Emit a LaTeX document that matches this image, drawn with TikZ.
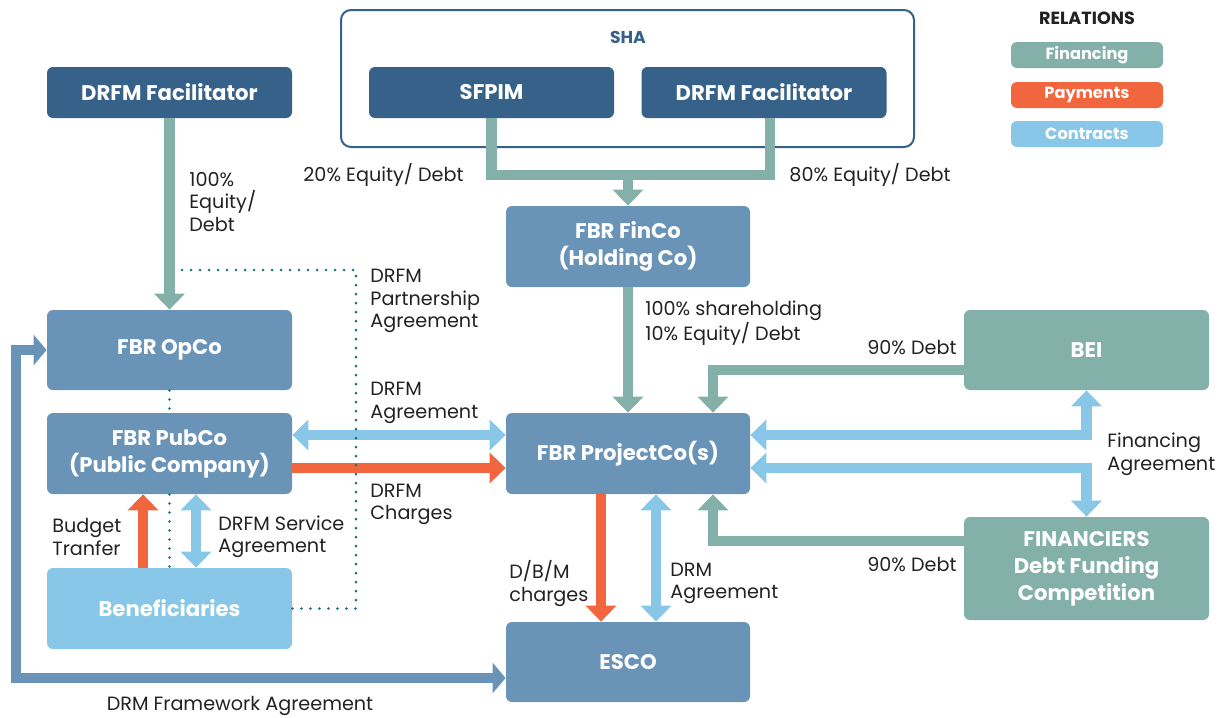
\documentclass[tikz,border=0pt]{standalone}
\usepackage{fontspec}
\setmainfont{Poppins}
\usetikzlibrary{arrows.meta,calc}
\definecolor{dblue}{HTML}{36628A}
\definecolor{mblue}{HTML}{6A93B8}
\definecolor{lblue}{HTML}{88C7E7}
\definecolor{cteal}{HTML}{84B0AA}
\definecolor{corange}{HTML}{F2663F}
\definecolor{dotc}{HTML}{1F6F7A}
\definecolor{txt}{HTML}{222222}
\begin{document}
\begin{tikzpicture}[x=0.5pt,y=-0.5pt,
  box/.style={rounded corners=3pt, text=white, font=\bfseries\fontsize{10.6}{13.5}\selectfont, align=center, inner sep=0pt},
  darkbox/.style={box, fill=dblue, minimum width=122.5pt, minimum height=25.5pt},
  midbox/.style={box, fill=mblue, minimum width=122.5pt, minimum height=40.5pt},
  legbox/.style={rounded corners=3pt, text=white, font=\bfseries\fontsize{8.1}{9}\selectfont, minimum width=76pt, minimum height=13pt, inner sep=0pt},
  lbl/.style={text=txt, font=\fontsize{9.6}{11.25}\selectfont, align=left, inner sep=0pt},
  heavy/.style={line width=5.3pt, line join=miter},
  tipA/.style={-{Triangle[width=15pt,length=8pt]}},
  fin/.style={heavy, draw=cteal, tipA},
  finl/.style={heavy, draw=cteal},
  pay/.style={heavy, draw=corange, tipA},
  con/.style={heavy, draw=lblue, {Triangle[width=15pt,length=8pt]}-{Triangle[width=15pt,length=8pt]}},
  drm/.style={line width=5pt, line join=miter, draw=mblue, {Triangle[width=15pt,length=6.5pt]}-{Triangle[width=15pt,length=6.5pt]}},
  dotl/.style={draw=dotc, line width=1.4pt, line cap=round, dash pattern=on 0pt off 4.5pt}
]
\useasboundingbox (0,0) rectangle (1223,718);
\fill[white] (0,0) rectangle (1223,718);

% SHA container
\node[draw=dblue, line width=1pt, rounded corners=5pt, minimum width=286.5pt, minimum height=68.5pt, inner sep=0pt] (sha) at (627.5,78.5) {};
\node[text=dblue, font=\bfseries\fontsize{8.6}{9}\selectfont] (shal) at (628,37) {SHA};

% boxes
\node[darkbox] (fac1) at (169.5,92.5) {DRFM Facilitator};
\node[darkbox] (sfpim) at (491.5,92.5) {SFPIM};
\node[darkbox] (fac2) at (764,92.5) {DRFM Facilitator};
\node[midbox, minimum width=122pt] (finco) at (628,246.5) {FBR FinCo\\(Holding Co)};
\node[midbox, minimum height=40pt] (opco) at (169.5,350) {FBR OpCo};
\node[midbox] (pubco) at (169.5,453.5) {FBR PubCo\\(Public Company)};
\node[midbox, minimum width=122pt] (proj) at (628,453.5) {FBR ProjectCo(s)};
\node[midbox, fill=lblue] (benef) at (169.5,608.5) {Beneficiaries};
\node[midbox, minimum width=122pt, minimum height=40pt] (esco) at (628,662) {ESCO};
\node[midbox, fill=cteal, minimum height=40pt] (bei) at (1086.5,350) {BEI};
\node[midbox, fill=cteal, minimum height=51.5pt] (fin) at (1086.5,568.5) {FINANCIERS\\Debt Funding\\Competition};

% legend
\node[text=txt, font=\bfseries\fontsize{8.8}{9}\selectfont] (rel) at (1087,18) {RELATIONS};
\node[legbox, fill=cteal] (lgf) at (1087,55) {Financing};
\node[legbox, fill=corange] (lgp) at (1087,95) {Payments};
\node[legbox, fill=lblue] (lgc) at (1087,134) {Contracts};

% financing
\draw[fin] (fac1.south) -- (opco.north);
\coordinate (mj) at (628,175);
\draw[finl] (sfpim.south) |- (mj) -| ($(fac2.south)+(6,0)$);
\draw[fin] (mj) -- (finco.north);
\draw[fin] (finco.south) -- (proj.north);
\draw[fin] ($(bei.west)+(0,20)$) -| ($(proj.north)+(85,0)$);
\draw[fin] ($(fin.west)+(0,-27.5)$) -| ($(proj.south)+(85,0)$);

% contracts
\draw[con] ($(proj.east)+(0,-18.5)$) -| (bei.south);
\draw[con] ($(proj.east)+(0,14.5)$) -| (fin.north);
\draw[con] ($(pubco.east)+(0,-18.5)$) -- ($(proj.west)+(0,-18.5)$);
\draw[con] ($(benef.north)+(26.5,0)$) -- ($(pubco.south)+(26.5,0)$);
\draw[con] ($(proj.south)+(28,0)$) -- ($(esco.north)+(28,0)$);

% payments
\draw[pay] ($(pubco.east)+(0,14.5)$) -- ($(proj.west)+(0,14.5)$);
\draw[pay] ($(benef.north)+(-26.5,0)$) -- ($(pubco.south)+(-26.5,0)$);
\draw[pay] ($(proj.south)+(-27,0)$) -- ($(esco.north)+(-27,0)$);

% DRM framework
\coordinate (dc) at (16,678);
\draw[drm] (opco.west) -| (dc) -- ($(esco.west)+(0,16)$);

% dotted
\draw[dotl] (opco.south) -- (pubco.north);
\draw[dotl] (pubco.south) -- (benef.north);
\coordinate (pd) at (176,270);
\draw[dotl] (benef.east) -| (356,270) -- (pd);

% labels
\node[lbl, anchor=west] (l100) at (189,202) {100\%\\Equity/\\Debt};
\node[lbl, anchor=east] (l20) at (464,175) {20\% Equity/ Debt};
\node[lbl, anchor=west] (l80) at (789,175) {80\% Equity/ Debt};
\node[lbl, anchor=west] (lsh) at (645,323.5) {100\% shareholding\\10\% Equity/ Debt};
\node[lbl, anchor=west] (lpart) at (370,301) {DRFM\\Partnership\\Agreement};
\node[lbl, anchor=west] (lagr) at (370,403) {DRFM\\Agreement};
\node[lbl, anchor=west] (lchg) at (370,504.5) {DRFM\\Charges};
\node[lbl, anchor=west] (lbud) at (52,537) {Budget\\Tranfer};
\node[lbl, anchor=west] (lserv) at (218,537) {DRFM Service\\Agreement};
\node[lbl, anchor=west] (ldbm) at (509,583.5) {D/B/M\\charges};
\node[lbl, anchor=west] (ldrm) at (670,583.5) {DRM\\Agreement};
\node[lbl, anchor=east] (l90a) at (957,348) {90\% Debt};
\node[lbl, anchor=east] (l90b) at (957,565) {90\% Debt};
\node[lbl, anchor=west] (lfa) at (1107,454.5) {Financing\\Agreement};
\node[lbl] (ldrmf) at (240,706) {DRM Framework Agreement};
\end{tikzpicture}
\end{document}
